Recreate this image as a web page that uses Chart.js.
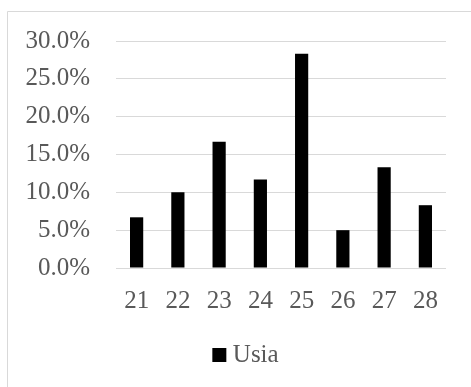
<!DOCTYPE html>
<html>
<head>
<meta charset="utf-8">
<script src="https://cdn.jsdelivr.net/npm/chart.js@4"></script>
<style>
  html, body { margin: 0; padding: 0; background: #ffffff; }
  #wrap { position: relative; width: 471px; height: 387px; }
</style>
</head>
<body>
<div id="wrap"><canvas id="chart" width="471" height="387"></canvas></div>
<script>
// Age categories and the share of respondents in each
const categories = ['21', '22', '23', '24', '25', '26', '27', '28'];
const usiaShare = [6.7, 10.0, 16.7, 11.7, 28.3, 5.0, 13.3, 8.3];
const yTicks = [0, 5, 10, 15, 20, 25, 30];
const seriesName = 'Usia';

const textColor = '#595959';
const gridColor = '#d9d9d9';
const fontFamily = '"Liberation Serif", "Times New Roman", serif';
const fontSize = 25;

// Thin frame around the chart area (open to the right and bottom)
const framePlugin = {
  id: 'frame',
  beforeDraw(chart) {
    const ctx = chart.ctx;
    ctx.save();
    ctx.fillStyle = '#ffffff';
    ctx.fillRect(0, 0, chart.width, chart.height);
    ctx.strokeStyle = gridColor;
    ctx.lineWidth = 1;
    ctx.beginPath();
    ctx.moveTo(7.5, chart.height + 1);
    ctx.lineTo(7.5, 11.5);
    ctx.lineTo(chart.width + 1, 11.5);
    ctx.stroke();
    ctx.restore();
  }
};

// Nudge the legend row so it sits under the middle of the plot
const legendShift = {
  id: 'legendShift',
  afterLayout(chart) {
    if (chart.legend) {
      chart.legend.left += 20.5;
      chart.legend.right += 20.5;
    }
  }
};

new Chart(document.getElementById('chart'), {
  type: 'bar',
  data: {
    labels: categories,
    datasets: [{
      label: seriesName,
      data: usiaShare,
      backgroundColor: '#000000',
      borderWidth: 0,
      categoryPercentage: 1.0,
      barPercentage: 0.32
    }]
  },
  options: {
    responsive: false,
    animation: false,
    devicePixelRatio: 1,
    layout: { padding: { left: 10, right: 25, top: 40, bottom: 9.5 } },
    plugins: {
      legend: {
        display: true,
        position: 'bottom',
        labels: {
          color: textColor,
          font: { family: fontFamily, size: fontSize },
          usePointStyle: true,
          pointStyle: 'rect',
          boxWidth: 2,
          boxHeight: 14,
          padding: 15,
          generateLabels(chart) {
            return chart.data.datasets.map((ds, i) => ({
              text: ds.label,
              fillStyle: '#000000',
              strokeStyle: '#000000',
              lineWidth: 0,
              pointStyle: 'rect',
              fontColor: textColor,
              datasetIndex: i
            }));
          }
        }
      },
      tooltip: { enabled: false }
    },
    scales: {
      x: {
        grid: { display: false, drawTicks: false },
        border: { display: false },
        afterFit(scale) {
          scale.height = 59.5;
        },
        ticks: {
          color: textColor,
          font: { family: fontFamily, size: fontSize },
          padding: 18,
          maxRotation: 0
        }
      },
      y: {
        min: 0,
        max: 30,
        afterBuildTicks(scale) {
          scale.ticks = yTicks.map(v => ({ value: v }));
        },
        afterFit(scale) {
          scale.width = 106;
        },
        grid: { color: gridColor, lineWidth: 1, drawTicks: false },
        border: { display: false },
        ticks: {
          color: textColor,
          font: { family: fontFamily, size: fontSize },
          padding: 26,
          callback: v => v.toFixed(1) + '%'
        }
      }
    }
  },
  plugins: [framePlugin, legendShift]
});
</script>
</body>
</html>
